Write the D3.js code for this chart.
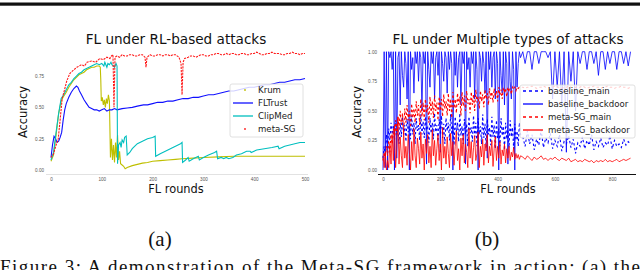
<!DOCTYPE html>
<html>
<head>
<meta charset="utf-8">
<script src="https://cdn.jsdelivr.net/npm/d3@7"></script>
<style>
  body { margin: 0; background: #fff; }
  svg { display: block; font-family: "DejaVu Sans", sans-serif; }
  .tick text { font-size: 4.6px; fill: #555; }
  .title { font-size: 13.6px; fill: #111; text-anchor: middle; }
  .axis-label { font-size: 11.4px; fill: #111; text-anchor: middle; }
  .legend-text { font-size: 8.6px; fill: #222; }
  .caption { font-family: "Liberation Serif", serif; fill: #111; }
</style>
</head>
<body>
<div id="chart"></div>
<script>
// ---- panel (a): FL under RL-based attacks, [round, accuracy]
const krum = [[0,.07],[5,.12],[10,.28],[15,.45],[20,.55],[25,.59],[30,.62],[35,.66],[40,.69],[45,.72],[50,.74],[55,.76],[60,.77],[65,.78],[70,.8],[75,.81],[80,.82],[85,.82],[90,.83],[95,.83],[97,.82],[98,.72],[99,.55],[101,.58],[103,.52],[105,.56],[107,.5],[109,.57],[111,.53],[113,.6],[115,.55],[117,.1],[119,.25],[121,.08],[123,.2],[125,.06],[127,.22],[129,.1],[131,.28],[133,.08],[135,.15],[137,.05],[140,.04],[143,.03],[146,.01],[150,.02],[160,.035],[170,.045],[180,.055],[190,.06],[200,.07],[215,.075],[230,.08],[245,.085],[258,.09],[280,.095],[300,.1],[330,.105],[360,.11],[400,.11],[450,.11],[500,.11]];
const fltrust = [[0,.1],[3,.2],[6,.27],[9,.25],[12,.22],[15,.23],[18,.26],[21,.3],[24,.4],[27,.48],[30,.53],[35,.58],[40,.62],[45,.65],[50,.67],[53,.66],[56,.63],[60,.6],[65,.56],[70,.53],[75,.5],[80,.49],[85,.48],[90,.48],[95,.47],[100,.48],[105,.49],[110,.47],[115,.48],[120,.48],[125,.49],[130,.48],[140,.49],[150,.495],[160,.5],[170,.51],[182,.52],[190,.52],[200,.53],[210,.54],[220,.54],[230,.55],[240,.55],[250,.56],[260,.57],[270,.57],[280,.58],[290,.58],[300,.59],[310,.6],[320,.6],[330,.61],[340,.62],[350,.63],[360,.63],[370,.64],[380,.65],[390,.66],[400,.66],[410,.67],[420,.68],[430,.68],[440,.69],[450,.7],[460,.7],[470,.71],[480,.72],[490,.72],[500,.73]];
const clipmed = [[0,.08],[5,.14],[10,.3],[15,.45],[20,.57],[25,.6],[30,.64],[35,.68],[40,.7],[45,.73],[50,.75],[55,.77],[60,.78],[65,.8],[70,.81],[75,.82],[80,.83],[85,.84],[90,.85],[95,.84],[100,.85],[104,.83],[106,.86],[110,.82],[112,.85],[115,.84],[118,.86],[120,.84],[125,.82],[128,.85],[130,.83],[131,.05],[133,.2],[136,.22],[138,.18],[140,.24],[143,.22],[145,.26],[148,.27],[150,.12],[155,.14],[160,.17],[165,.19],[170,.21],[180,.23],[190,.25],[200,.26],[205,.27],[206,.11],[215,.13],[225,.15],[235,.17],[245,.19],[255,.21],[258,.22],[259,.06],[265,.08],[270,.1],[272,.07],[280,.09],[290,.11],[292,.08],[300,.1],[310,.12],[322,.14],[326,.15],[328,.09],[335,.1],[340,.09],[345,.1],[350,.09],[358,.1],[365,.12],[375,.13],[385,.15],[392,.15],[394,.14],[405,.16],[420,.17],[435,.18],[447,.19],[449,.17],[460,.19],[470,.2],[480,.21],[490,.22],[500,.22]];
const metaSG = [[0,.1],[5,.13],[10,.2],[14,.24],[18,.4],[22,.57],[26,.63],[31,.71],[37,.77],[45,.8],[51,.82],[60,.84],[66,.83],[71,.86],[80,.87],[88,.86],[96,.89],[103,.88],[110,.9],[116,.89],[119,.91],[122,.92],[124,.5],[126,.9],[130,.91],[135,.9],[140,.92],[145,.91],[150,.91],[155,.92],[160,.92],[165,.91],[170,.91],[175,.92],[180,.92],[185,.9],[187,.82],[189,.9],[195,.92],[200,.91],[205,.91],[210,.92],[215,.92],[220,.91],[225,.92],[230,.92],[235,.91],[240,.92],[245,.92],[252,.9],[256,.85],[258,.6],[260,.86],[263,.89],[270,.9],[275,.91],[280,.91],[285,.9],[290,.91],[295,.92],[300,.92],[305,.91],[310,.91],[315,.92],[320,.92],[325,.93],[330,.93],[335,.92],[340,.92],[345,.93],[350,.92],[355,.93],[360,.93],[365,.92],[370,.92],[375,.93],[380,.93],[385,.92],[390,.92],[395,.93],[400,.93],[405,.94],[410,.93],[415,.92],[420,.92],[425,.93],[430,.93],[435,.94],[440,.93],[445,.93],[450,.93],[455,.92],[460,.92],[465,.93],[470,.93],[475,.94],[480,.93],[485,.93],[490,.92],[495,.93],[500,.93]];

const xTicksA = [0, 100, 200, 300, 400, 500];
const yTicksA = [0, 0.25, 0.5, 0.75];

// ---- panel (b): FL under Multiple types of attacks
const roundsEarly = d3.range(0, 481, 4);
const roundsLate = d3.range(488, 865, 8);

const baseMainEarly = [
  0.1, 0.2, 0.12, 0.3, 0.18, 0.35, 0.25, 0.4, 0.3, 0.38,
  0.25, 0.42, 0.3, 0.36, 0.22, 0.4, 0.28, 0.45, 0.3, 0.38,
  0.24, 0.43, 0.32, 0.37, 0.26, 0.46, 0.3, 0.4, 0.22, 0.44,
  0.33, 0.38, 0.25, 0.47, 0.3, 0.41, 0.27, 0.45, 0.34, 0.36,
  0.23, 0.44, 0.31, 0.4, 0.26, 0.48, 0.32, 0.38, 0.24, 0.43,
  0.3, 0.46, 0.27, 0.39, 0.22, 0.44, 0.33, 0.4, 0.25, 0.47,
  0.3, 0.38, 0.21, 0.45, 0.32, 0.4, 0.24, 0.48, 0.29, 0.37,
  0.22, 0.43, 0.3, 0.39, 0.2, 0.45, 0.31, 0.36, 0.24, 0.46,
  0.28, 0.4, 0.2, 0.44, 0.3, 0.37, 0.22, 0.47, 0.27, 0.39,
  0.19, 0.43, 0.3, 0.36, 0.21, 0.45, 0.28, 0.38, 0.18, 0.42,
  0.27, 0.35, 0.2, 0.44, 0.29, 0.37, 0.17, 0.4, 0.26, 0.34,
  0.19, 0.42, 0.28, 0.36, 0.18, 0.39, 0.25, 0.33, 0.2, 0.4,
  0.3];
const baseMainLate = [
  0.28, 0.2, 0.33, 0.22, 0.3, 0.17, 0.26, 0.21, 0.34, 0.19,
  0.27, 0.23, 0.31, 0.18, 0.25, 0.2, 0.3, 0.16, 0.24, 0.22,
  0.29, 0.19, 0.26, 0.14, 0.23, 0.2, 0.28, 0.18, 0.25, 0.21,
  0.3, 0.17, 0.24, 0.2, 0.27, 0.19, 0.23, 0.21, 0.29, 0.18,
  0.25, 0.2, 0.22, 0.19, 0.26, 0.21, 0.24, 0.22];

const baseBackEarly = [
  0, 1, 0.02, 1, 0, 1, 0.95, 1, 0.85, 1,
  0, 1, 0.1, 0.95, 1, 0.55, 1, 0.8, 0.7, 1,
  0.9, 0.6, 1, 0, 1, 0.85, 0.95, 0.65, 1, 0.9,
  1, 0.75, 1, 0.95, 0.5, 1, 0.9, 1, 0.05, 1,
  0.85, 0.7, 1, 0.9, 1, 0.6, 0.95, 1, 0.8, 1,
  0.15, 1, 0.9, 0.75, 1, 0.95, 0.65, 1, 0.85, 1,
  0.9, 0, 1, 0.8, 1, 0.7, 0.95, 1, 0.55, 1,
  0.9, 1, 0.05, 1, 0.85, 0.95, 0.7, 1, 0.9, 1,
  0.6, 1, 0.85, 0, 1, 0.95, 0.75, 1, 0.9, 0.65,
  1, 0.1, 1, 0.85, 1, 0.7, 0.95, 1, 0.6, 1,
  0.9, 0, 1, 0.8, 0.65, 1, 0.55, 1, 0.9, 0.05,
  1, 0.75, 0.6, 1, 0.85, 0, 1, 0.7, 0.9, 1,
  0.95];
const baseBackLate = [
  1, 0.9, 1, 1, 0.85, 1, 1, 0.9, 1, 1,
  1, 0.95, 1, 0.6, 1, 0.7, 1, 0.55, 1, 0.15,
  1, 0.75, 1, 0.5, 1, 0.9, 1, 1, 0.85, 1,
  1, 0.9, 1, 0.8, 1, 1, 0.85, 1, 0.9, 1,
  1, 0.85, 1, 1, 0.9, 1, 0.88, 1];

const metaMainEarly = [
  0.08, 0.15, 0.1, 0.2, 0.12, 0.25, 0.15, 0.3, 0.22, 0.35,
  0.28, 0.42, 0.3, 0.45, 0.35, 0.5, 0.38, 0.48, 0.32, 0.52,
  0.4, 0.55, 0.42, 0.5, 0.36, 0.56, 0.44, 0.52, 0.4, 0.58,
  0.46, 0.55, 0.38, 0.6, 0.45, 0.57, 0.42, 0.6, 0.48, 0.55,
  0.4, 0.62, 0.47, 0.58, 0.44, 0.63, 0.5, 0.57, 0.42, 0.62,
  0.5, 0.6, 0.45, 0.64, 0.52, 0.58, 0.46, 0.65, 0.5, 0.6,
  0.44, 0.66, 0.52, 0.6, 0.48, 0.65, 0.55, 0.62, 0.46, 0.66,
  0.54, 0.63, 0.5, 0.67, 0.56, 0.6, 0.48, 0.66, 0.55, 0.64,
  0.5, 0.68, 0.57, 0.62, 0.52, 0.67, 0.58, 0.64, 0.53, 0.68,
  0.6, 0.65, 0.55, 0.69, 0.6, 0.66, 0.57, 0.69, 0.62, 0.67,
  0.58, 0.7, 0.63, 0.68, 0.6, 0.7, 0.65, 0.69, 0.62, 0.7,
  0.66, 0.69, 0.64, 0.7, 0.68, 0.7, 0.67, 0.7, 0.69, 0.7,
  0.7];
const metaMainLate = [
  0.7, 0.69, 0.7, 0.7, 0.71, 0.7, 0.69, 0.7, 0.7, 0.71,
  0.7, 0.7, 0.69, 0.7, 0.71, 0.7, 0.7, 0.69, 0.7, 0.7,
  0.71, 0.7, 0.69, 0.7, 0.7, 0.7, 0.71, 0.7, 0.69, 0.7,
  0.7, 0.71, 0.7, 0.7, 0.69, 0.7, 0.7, 0.71, 0.7, 0.7,
  0.69, 0.7, 0.7, 0.71, 0.7, 0.7, 0.69, 0.7];

const metaBackEarly = [
  0.12, 0.02, 0.15, 0, 0.08, 0.02, 0.22, 0.05, 0.3, 0.08,
  0.38, 0.02, 0.18, 0.45, 0.05, 0.28, 0.12, 0.02, 0.33, 0.1,
  0.2, 0.04, 0.3, 0.15, 0, 0.24, 0.08, 0.35, 0.12, 0.02,
  0.27, 0.18, 0.05, 0.32, 0.1, 0.22, 0, 0.26, 0.14, 0.3,
  0.06, 0.2, 0.02, 0.34, 0.12, 0.25, 0.04, 0.18, 0.3, 0.08,
  0.22, 0, 0.36, 0.1, 0.2, 0.05, 0.28, 0.14, 0.02, 0.31,
  0.12, 0.24, 0.04, 0.2, 0.33, 0.08, 0.18, 0, 0.27, 0.12,
  0.3, 0.06, 0.22, 0.15, 0.02, 0.35, 0.1, 0.24, 0.05, 0.19,
  0.29, 0.08, 0.14, 0.32, 0.02, 0.2, 0.11, 0.26, 0.04, 0.22,
  0.16, 0.3, 0.06, 0.2, 0.12, 0.25, 0.03, 0.18, 0.28, 0.08,
  0.2, 0.1, 0.24, 0.05, 0.17, 0.12, 0.22, 0.06, 0.18, 0.1,
  0.2, 0.08, 0.15, 0.11, 0.19, 0.09, 0.14, 0.1, 0.13, 0.09,
  0.12];
const metaBackLate = [
  0.11, 0.09, 0.12, 0.1, 0.08, 0.11, 0.09, 0.1, 0.12, 0.09,
  0.1, 0.08, 0.1, 0.09, 0.11, 0.09, 0.08, 0.1, 0.09, 0.08,
  0.1, 0.07, 0.08, 0.09, 0.07, 0.08, 0.07, 0.09, 0.08, 0.07,
  0.08, 0.06, 0.08, 0.07, 0.08, 0.07, 0.09, 0.07, 0.08, 0.07,
  0.08, 0.09, 0.07, 0.08, 0.09, 0.08, 0.09, 0.1];

const xTicksB = [0, 200, 400, 600, 800];
const yTicksB = [0, 0.25, 0.5, 0.75, 1];

const W = 640, H = 270;
const svg = d3.select('#chart').append('svg')
  .attr('width', W)
  .attr('height', H)
  .attr('viewBox', `0 0 ${W} ${H}`);

// top rule of the page
svg.append('rect').attr('x', 0).attr('y', 2.5).attr('width', W).attr('height', 3.2).attr('fill', '#111');

const fmt = d3.format('.2f');

const drawAxes = (g, x, y, xTicks, yTicks, leftX, bottomY) => {
  g.append('g')
    .attr('transform', `translate(0,${bottomY})`)
    .call(d3.axisBottom(x).tickValues(xTicks).tickSize(0).tickPadding(3.6))
    .call(s => s.select('.domain').remove());
  g.append('g')
    .attr('transform', `translate(${leftX},0)`)
    .call(d3.axisLeft(y).tickValues(yTicks).tickSize(0).tickPadding(2).tickFormat(fmt))
    .call(s => s.select('.domain').remove());
};

const addLegend = (g, x0, y0, w, h, items) => {
  const gL = g.append('g').attr('class', 'legend');
  gL.append('rect')
    .attr('x', x0).attr('y', y0).attr('width', w).attr('height', h)
    .attr('rx', 2)
    .attr('fill', 'rgba(255,255,255,0.8)')
    .attr('stroke', '#d8d8d8')
    .attr('stroke-width', 0.8);
  items.forEach((it, i) => {
    const cy = y0 + 6 + i * 13;
    if (it.dot) {
      gL.append('circle')
        .attr('cx', x0 + 15).attr('cy', cy).attr('r', 0.9)
        .attr('fill', it.color);
    } else {
      gL.append('line')
        .attr('x1', x0 + 3).attr('x2', x0 + 23)
        .attr('y1', cy).attr('y2', cy)
        .attr('stroke', it.color)
        .attr('stroke-width', 1.3)
        .attr('stroke-dasharray', it.dash || null);
    }
    gL.append('text')
      .attr('class', 'legend-text')
      .attr('x', x0 + 28).attr('y', cy)
      .attr('dy', '0.34em')
      .text(it.name);
  });
};

// ---------- panel (a)
const gA = svg.append('g');
const xA = d3.scaleLinear().domain([0, 500]).range([51, 305]);
const yA = d3.scaleLinear().domain([0, 1]).range([170, 44.7]);

gA.append('line')
  .attr('x1', 46).attr('x2', 308).attr('y1', 174.5).attr('y2', 174.5)
  .attr('stroke', '#e2e2e2').attr('stroke-width', 1);

const lineA = d3.line().x(d => xA(d[0])).y(d => yA(d[1]));
const seriesA = [
  { name: 'Krum', data: krum, color: '#bfbf00', dash: null, dot: true },
  { name: 'FLTrust', data: fltrust, color: '#1010ff', dash: null },
  { name: 'ClipMed', data: clipmed, color: '#00bfbf', dash: null },
  { name: 'meta-SG', data: metaSG, color: '#ff1a1a', dash: '2.2,1', dot: true }
];
seriesA.forEach(s => {
  gA.append('path')
    .datum(s.data)
    .attr('d', lineA)
    .attr('fill', 'none')
    .attr('stroke', s.color)
    .attr('stroke-width', 1.1)
    .attr('stroke-dasharray', s.dash);
});
drawAxes(gA, xA, yA, xTicksA, yTicksA, 46, 174);
gA.append('text').attr('class', 'title').attr('x', 176).attr('y', 44).text('FL under RL-based attacks');
gA.append('text').attr('class', 'axis-label').attr('x', 176).attr('y', 193).text('FL rounds');
gA.append('text').attr('class', 'axis-label')
  .attr('transform', 'translate(27,112) rotate(-90)')
  .text('Accuracy');
addLegend(gA, 230, 84, 73, 53, seriesA);

// ---------- panel (b)
const gB = svg.append('g');
const xB = d3.scaleLinear().domain([0, 800]).range([383, 612.2]);
const yB = d3.scaleLinear().domain([0, 1]).range([170, 51.7]);
const roundsB = roundsEarly.concat(roundsLate);
const zipB = (early, late) => early.concat(late).map((v, i) => [roundsB[i], v]);
const lineB = d3.line().x(d => xB(d[0])).y(d => yB(d[1]));

const seriesB = [
  { name: 'baseline_main', data: zipB(baseMainEarly, baseMainLate), color: '#0000ff', dash: '2.4,2.4', w: 1.1 },
  { name: 'baseline_backdoor', data: zipB(baseBackEarly, baseBackLate), color: '#0000ff', dash: null, w: 0.8 },
  { name: 'meta-SG_main', data: zipB(metaMainEarly, metaMainLate), color: '#ff0000', dash: '2.4,2.4', w: 1.1 },
  { name: 'meta-SG_backdoor', data: zipB(metaBackEarly, metaBackLate), color: '#ff0000', dash: null, w: 0.8 }
];
seriesB.forEach(s => {
  gB.append('path')
    .datum(s.data)
    .attr('d', lineB)
    .attr('fill', 'none')
    .attr('stroke', s.color)
    .attr('stroke-width', s.w)
    .attr('stroke-dasharray', s.dash);
});
gB.append('line')
  .attr('x1', 378).attr('x2', 636).attr('y1', 174.5).attr('y2', 174.5)
  .attr('stroke', '#111').attr('stroke-width', 1);
drawAxes(gB, xB, yB, xTicksB, yTicksB, 379, 174);
gB.append('text').attr('class', 'title').attr('x', 508).attr('y', 44).text('FL under Multiple types of attacks');
gB.append('text').attr('class', 'axis-label').attr('x', 508).attr('y', 193).text('FL rounds');
gB.append('text').attr('class', 'axis-label')
  .attr('transform', 'translate(361,112) rotate(-90)')
  .text('Accuracy');
addLegend(gB, 520, 85, 115, 53, seriesB.map(s => ({ name: s.name, color: s.color, dash: s.dash ? '3,3' : null })));

// ---------- captions
svg.append('text').attr('class', 'caption').attr('x', 160).attr('y', 246)
  .attr('text-anchor', 'middle').attr('font-size', 21).text('(a)');
svg.append('text').attr('class', 'caption').attr('x', 487).attr('y', 246)
  .attr('text-anchor', 'middle').attr('font-size', 21).text('(b)');
// page caption, cut by the bottom edge like in the original figure
svg.append('text').attr('class', 'caption').attr('x', 0).attr('y', 273)
  .attr('font-size', 19).attr('textLength', 640).attr('lengthAdjust', 'spacing')
  .text('Figure 3: A demonstration of the Meta-SG framework in action: (a) the');
</script>
</body>
</html>
